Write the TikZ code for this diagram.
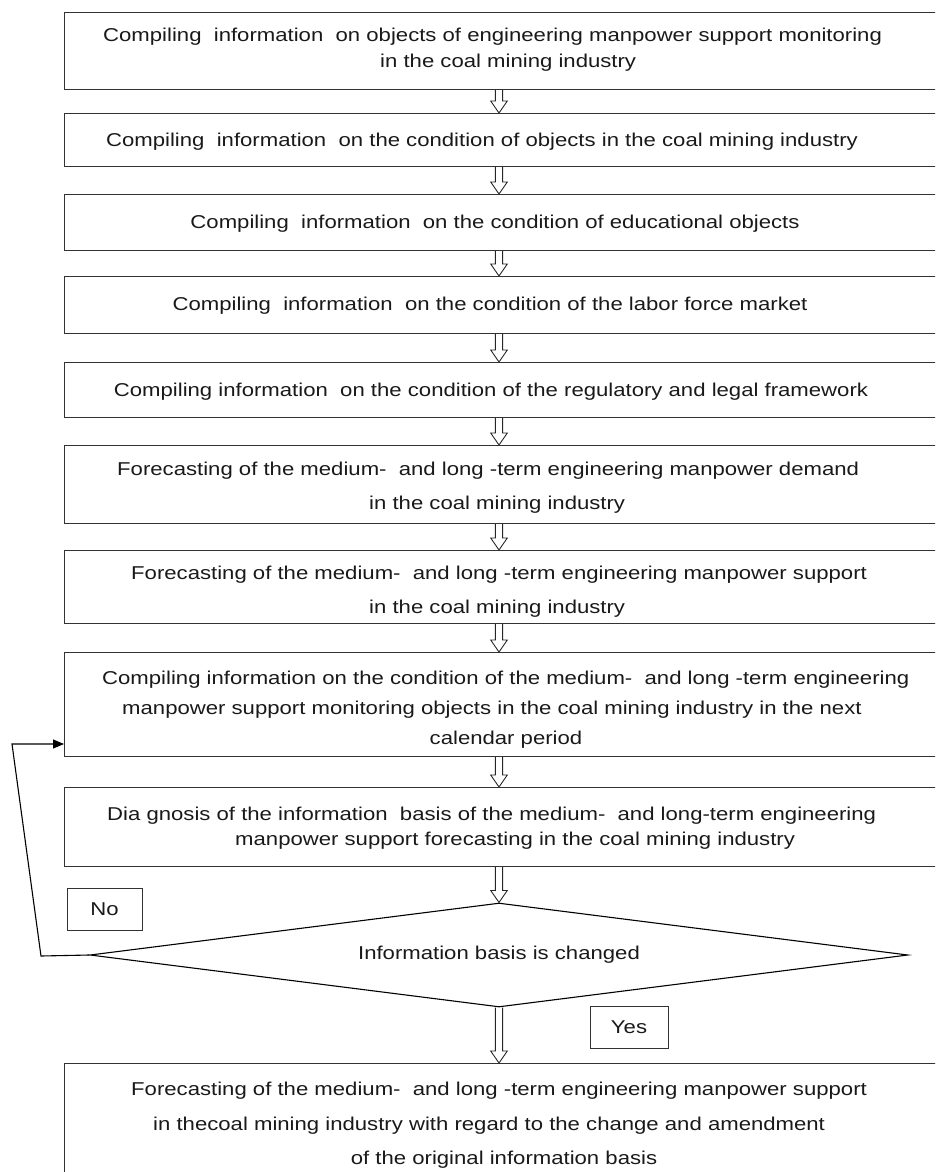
\documentclass[tikz,border=0pt]{standalone}
\usepackage{fontspec}
\setmainfont{Liberation Sans}
\usepackage{graphicx}
\usetikzlibrary{shapes.geometric,arrows.meta,calc}
\newcommand\wt[1]{\scalebox{1.19}[1]{#1}}
\newcommand\hollow[2]{\draw[harrow] let \p1=(#1), \p2=(#2) in (\x1-3.6pt,\y1) -- (\x1-3.6pt,\y2+12pt) -- (\x1-8.3pt,\y2+12pt) -- (\x1,\y2) -- (\x1+8.3pt,\y2+12pt) -- (\x1+3.6pt,\y2+12pt) -- (\x1+3.6pt,\y1);}
\begin{document}
\begin{tikzpicture}[x=1pt,y=-1pt,
  box/.style={draw=black!80, line width=0.9pt, minimum width=1000pt, inner sep=0pt, anchor=north west},
  txt/.style={inner sep=0pt, font=\fontsize{18.6}{22}\selectfont, text=black!90},
  harrow/.style={draw=black!85, line width=0.9pt},
  lbl/.style={draw=black!80, line width=0.9pt, inner sep=0pt, font=\fontsize{18.6}{22}\selectfont, text=black!90},
  loopline/.style={draw=black, line width=1.1pt}]
\useasboundingbox (0,0) rectangle (935,1172);
\clip (0,0) rectangle (935,1172);
% boxes
\node[box, minimum height=77pt] (b1) at (64,12) {};
\node[box, minimum height=53pt] (b2) at (64,113) {};
\node[box, minimum height=56pt] (b3) at (64,194) {};
\node[box, minimum height=57pt] (b4) at (64,276) {};
\node[box, minimum height=55pt] (b5) at (64,362) {};
\node[box, minimum height=78pt] (b6) at (64,445) {};
\node[box, minimum height=73pt] (b7) at (64,550) {};
\node[box, minimum height=104pt] (b8) at (64,652) {};
\node[box, minimum height=79pt] (b9) at (64,787) {};
\node[box, minimum height=150pt] (b10) at (64,1063) {};
% decision
\node[draw=black, line width=1.1pt, diamond, aspect=7.9, minimum width=818pt, minimum height=104pt, inner sep=0pt, font=\fontsize{18.6}{22}\selectfont, text=black!90] (d) at (499,955) {\wt{Information basis is changed}};
\node[lbl, minimum width=75pt, minimum height=42pt] (no) at (104.5,909) {\wt{No}};
\node[lbl, minimum width=78pt, minimum height=42pt] (yes) at (629,1027) {\wt{Yes}};
% texts
\node[txt, anchor=base west] (t1a) at (103,42) {\wt{Compiling~~information~~on objects of engineering manpower support monitoring}};
\node[txt, anchor=base west] (t1b) at (380,67) {\wt{in the coal mining industry}};
\node[txt, anchor=base] (t2) at (482,146) {\wt{Compiling~~information~~on the condition of objects in the coal mining industry}};
\node[txt, anchor=base] (t3) at (495,228) {\wt{Compiling~~information~~on the condition of educational objects}};
\node[txt, anchor=base] (t4) at (490,310) {\wt{Compiling~~information~~on the condition of the labor force market}};
\node[txt, anchor=base] (t5) at (491,396) {\wt{Compiling information~~on the condition of the regulatory and legal framework}};
\node[txt, anchor=base west] (t6a) at (117,475.5) {\wt{Forecasting of the medium-~~and long -term engineering manpower demand}};
\node[txt, anchor=base west] (t6b) at (369,509.5) {\wt{in the coal mining industry}};
\node[txt, anchor=base west] (t7a) at (131,579.5) {\wt{Forecasting of the medium-~~and long -term engineering manpower support}};
\node[txt, anchor=base west] (t7b) at (369,613.5) {\wt{in the coal mining industry}};
\node[txt, anchor=base west] (t8a) at (102,684.5) {\wt{Compiling information on the condition of the medium-~~and long -term engineering}};
\node[txt, anchor=base west] (t8b) at (122,714.5) {\wt{manpower support monitoring objects in the coal mining industry in the next}};
\node[txt, anchor=base] (t8c) at (506,744.5) {\wt{calendar period}};
\node[txt, anchor=base west] (t9a) at (107,820) {\wt{Dia gnosis of the information~~basis of the medium-~~and long-term engineering}};
\node[txt, anchor=base west] (t9b) at (235,845) {\wt{manpower support forecasting in the coal mining industry}};
\node[txt, anchor=base west] (t10a) at (131,1095.5) {\wt{Forecasting of the medium-~~and long -term engineering manpower support}};
\node[txt, anchor=base west] (t10b) at (153,1130.5) {\wt{in thecoal mining industry with regard to the change and amendment}};
\node[txt, anchor=base] (t10c) at (504,1164.5) {\wt{of the original information basis}};
% connectors
\coordinate (ax) at (499,0);
\hollow{b1.south -| ax}{b2.north -| ax}
\hollow{b2.south -| ax}{b3.north -| ax}
\hollow{b3.south -| ax}{b4.north -| ax}
\hollow{b4.south -| ax}{b5.north -| ax}
\hollow{b5.south -| ax}{b6.north -| ax}
\hollow{b6.south -| ax}{b7.north -| ax}
\hollow{b7.south -| ax}{b8.north -| ax}
\hollow{b8.south -| ax}{b9.north -| ax}
\hollow{b9.south -| ax}{d.north}
\hollow{d.south}{b10.north -| d.south}
\coordinate (l1) at (41,956);
\coordinate (l2) at (12,744);
\draw[loopline, -{Triangle[length=11pt,width=9pt]}] (d.west) -- (l1) -- (l2) -- (l2 -| b8.west);
\end{tikzpicture}
\end{document}
